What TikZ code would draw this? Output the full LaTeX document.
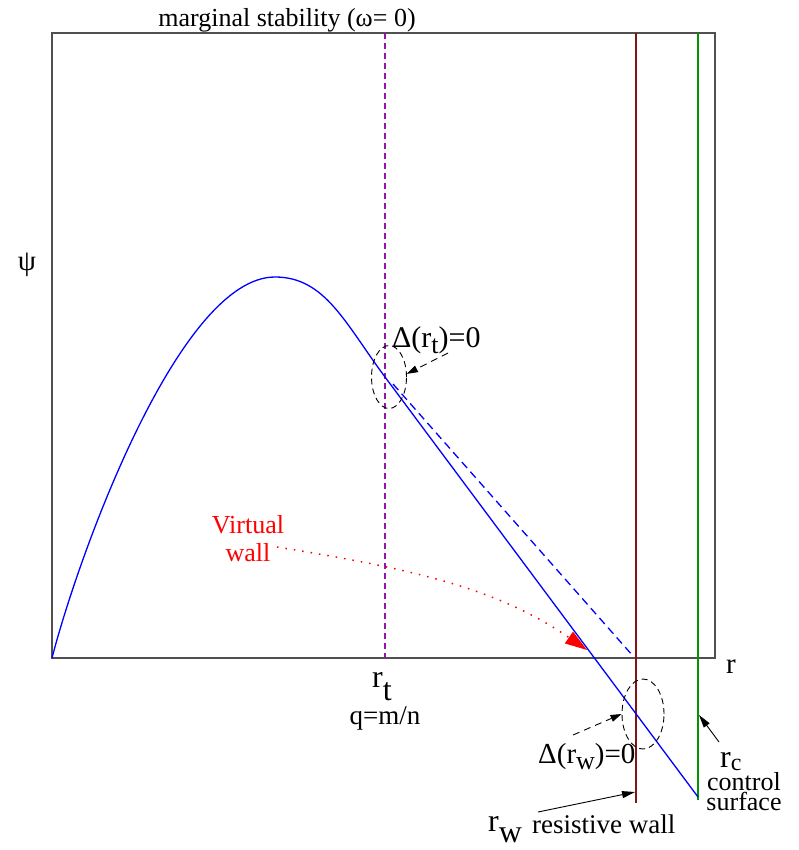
\documentclass[tikz,border=0pt]{standalone}
\usepackage{fontspec}
\setmainfont{Liberation Serif}
\usetikzlibrary{arrows.meta, shapes.geometric}
\definecolor{wallbrown}{RGB}{130,20,20}
\definecolor{ctrlgreen}{RGB}{0,150,0}
\definecolor{stabpurple}{RGB}{150,20,170}
\definecolor{framegray}{RGB}{80,80,80}

\begin{document}
\begin{tikzpicture}[
  x=1pt, y=-1pt,
  font=\fontsize{26}{28}\selectfont,
  lbl/.style={inner sep=0pt, anchor=base},
  bigr/.style={lbl, font=\fontsize{32}{34}\selectfont},
  frm/.style={draw=framegray, line width=1.2pt},
  psi/.style={draw=blue, line width=1.3pt},
  zone/.style={draw, ellipse, dash pattern=on 6pt off 4pt,
               inner sep=0pt, line width=0.9pt},
  darr/.style={-{Triangle[length=11pt,width=7pt]},
               dash pattern=on 7pt off 5pt, line width=0.9pt},
  sarr/.style={-{Triangle[length=13pt,width=7pt]}, line width=0.9pt},
  varr/.style={-{Triangle[length=22pt,width=14pt]}, red,
               dash pattern=on 1.5pt off 7pt, line width=1.5pt}
]
\useasboundingbox (0,0) rectangle (799,850);

% box, marginal stability line, wall and control surface
\draw[frm] (52,33) rectangle (715,658);
\draw[stabpurple, line width=1.1pt, dash pattern=on 6pt off 4pt] (385,33) -- (385,658);
\draw[wallbrown, line width=1.2pt] (636,33) -- (636,803);
\draw[ctrlgreen, line width=1.2pt] (698,33) -- (698,800);

% psi(r)
\draw[psi] (52,658) .. controls (80,550) and (180,277) .. (275,277)
  .. controls (325,277) and (345,323) .. (385,377) -- (698,797);
\draw[psi, dash pattern=on 8pt off 5pt] (393,384) -- (633,656);

% labels
\node[lbl] (title) at (287,27) {marginal stability (ω= 0)};
\node[lbl, anchor=center, font=\fontsize{29}{30}\selectfont] (psilbl) at (27,265) {ψ};
\node[lbl, font=\fontsize{29}{30}\selectfont] (rax) at (731,673) {r};
\node[bigr, anchor=base west] (rt) at (372,687) {r\raisebox{-13pt}{t}};
\node[lbl, font=\fontsize{27}{28}\selectfont] (qmn) at (385,724) {q=m/n};
\node[bigr, anchor=base west] (rw) at (488,831) {r\raisebox{-11pt}{w}};
\node[lbl, anchor=base west, font=\fontsize{27}{28}\selectfont] (reswall) at (532,833) {resistive wall};
\node[bigr, anchor=base west] (rc) at (720,767) {r\raisebox{-3pt}{\fontsize{24}{24}\selectfont c}};
\node[lbl, align=center, font=\fontsize{26}{20}\selectfont] (ctrl) at (744,810) {control\\surface};
\node[lbl, red] (virt) at (248,533) {Virtual};
\node[lbl, red] (vwall) at (248,561) {wall};

% Delta = 0 zones
\node[zone, minimum width=35pt, minimum height=63pt] (elt) at (389,377) {};
\node[zone, minimum width=42pt, minimum height=70pt] (elw) at (643,714) {};
\node[lbl, anchor=base west, font=\fontsize{30}{32}\selectfont] (dt) at (392,347)
  {Δ(r\raisebox{-6pt}{\fontsize{26}{26}\selectfont t})=0};
\node[lbl, anchor=base west, font=\fontsize{29}{32}\selectfont] (dw) at (538,763)
  {Δ(r\raisebox{-6pt}{\fontsize{26}{26}\selectfont w})=0};

% connectors
\coordinate (dtfrom) at (448,353);
\coordinate (dwfrom) at (573,735);
\coordinate (rwfrom) at (538,812);
\coordinate (rwto) at (635,792);
\coordinate (rcfrom) at (719,742);
\coordinate (rcto) at (699,715);
\coordinate (vfrom) at (277,547);
\coordinate (vtip) at (587,650);
\draw[darr] (dtfrom) -- (elt.10);
\draw[darr] (dwfrom) -- (elw.west);
\draw[sarr] (rwfrom) -- (rwto);
\draw[sarr] (rcfrom) -- (rcto);
\draw[varr] (vfrom) .. controls (420,570) and (500,590) .. (vtip);
\end{tikzpicture}
\end{document}
